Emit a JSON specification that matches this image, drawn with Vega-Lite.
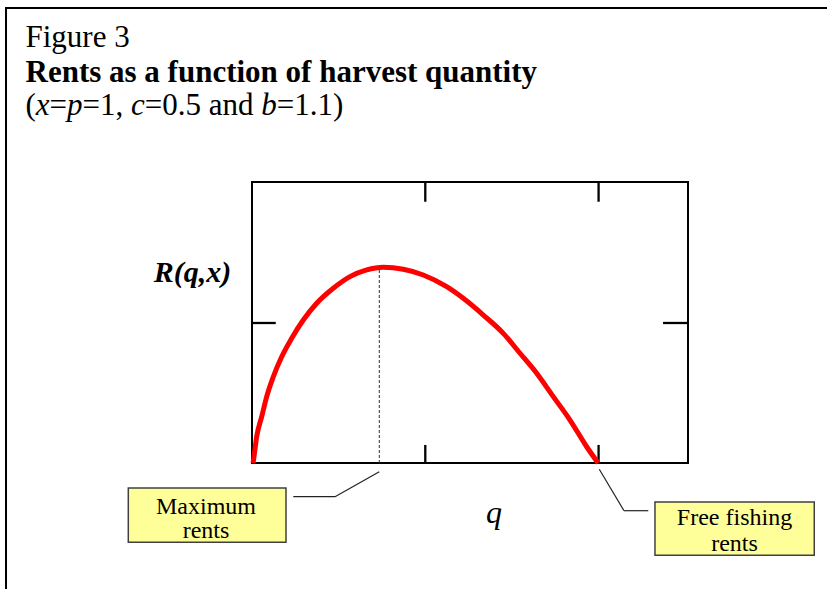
{
  "$schema": "https://vega.github.io/schema/vega-lite/v6.json",
  "width": 436,
  "height": 281,
  "autosize": {"type": "none"},
  "padding": {"left": 252, "top": 182, "right": 139, "bottom": 126},
  "background": "white",
  "config": {"view": {"stroke": "black", "strokeWidth": 2}},
  "datasets": {
    "curve": [
      {"q": 0.006, "R": 0},
      {"q": 0.0115, "R": 0.045},
      {"q": 0.0271, "R": 0.188},
      {"q": 0.056, "R": 0.331},
      {"q": 0.0848, "R": 0.474},
      {"q": 0.1229, "R": 0.616},
      {"q": 0.1714, "R": 0.759},
      {"q": 0.2291, "R": 0.891},
      {"q": 0.296, "R": 1.021},
      {"q": 0.3733, "R": 1.141},
      {"q": 0.4691, "R": 1.248},
      {"q": 0.5655, "R": 1.331},
      {"q": 0.6619, "R": 1.379},
      {"q": 0.7576, "R": 1.398},
      {"q": 0.873, "R": 1.384},
      {"q": 0.9885, "R": 1.343},
      {"q": 1.1235, "R": 1.259},
      {"q": 1.2193, "R": 1.176},
      {"q": 1.3347, "R": 1.057},
      {"q": 1.4501, "R": 0.926},
      {"q": 1.5465, "R": 0.784},
      {"q": 1.6428, "R": 0.641},
      {"q": 1.7386, "R": 0.474},
      {"q": 1.835, "R": 0.307},
      {"q": 1.9313, "R": 0.116},
      {"q": 1.997, "R": 0}
    ],
    "frame": [{"q": -1.4195, "R": 3.25, "q2": 3.4, "R2": -1.0}],
    "ticks": [
      {"q": 1, "R": 2.007, "q2": 1, "R2": 1.866},
      {"q": 2, "R": 2.007, "q2": 2, "R2": 1.866},
      {"q": 1, "R": 0, "q2": 1, "R2": 0.129},
      {"q": 2, "R": 0, "q2": 2, "R2": 0.129},
      {"q": 0, "R": 1, "q2": 0.137, "R2": 1},
      {"q": 2.372, "R": 1, "q2": 2.516, "R2": 1}
    ],
    "leaders": [
      {"q": 0.7346, "R": -0.0621, "q2": 0.4789, "R2": -0.2407},
      {"q": 0.4789, "R": -0.2407, "q2": 0.2383, "R2": -0.2407},
      {"q": 2.004, "R": -0.045, "q2": 2.1466, "R2": -0.3407},
      {"q": 2.1466, "R": -0.3407, "q2": 2.2868, "R2": -0.3407}
    ],
    "dotted": [{"q": 0.7346, "R": 0, "q2": 0.7346, "R2": 1.395}],
    "boxes": [
      {"q": -0.7138, "R": -0.1786, "q2": 0.1962, "R2": -0.5664},
      {"q": 2.3254, "R": -0.2786, "q2": 3.2446, "R2": -0.6593}
    ],
    "boxText": [
      {"q": -0.2654, "R": -0.3607, "t": "Maximum"},
      {"q": -0.2654, "R": -0.5357, "t": "rents"},
      {"q": 2.7842, "R": -0.4429, "t": "Free fishing"},
      {"q": 2.7842, "R": -0.625, "t": "rents"}
    ],
    "titleRegular": [{"q": -1.307, "R": 2.968, "t": "Figure 3"}],
    "titleBold": [{"q": -1.307, "R": 2.7214, "t": "Rents as a function of harvest quantity"}],
    "subRegular": [
      {"q": -1.307, "R": 2.482, "t": "("},
      {"q": -1.168, "R": 2.482, "t": "="},
      {"q": -0.9777, "R": 2.482, "t": "=1,"},
      {"q": -0.6185, "R": 2.482, "t": "=0.5 and"},
      {"q": 0.1432, "R": 2.482, "t": "=1.1)"}
    ],
    "subItalic": [
      {"q": -1.2474, "R": 2.482, "t": "x"},
      {"q": -1.0671, "R": 2.482, "t": "p"},
      {"q": -0.6979, "R": 2.482, "t": "c"},
      {"q": 0.0538, "R": 2.482, "t": "b"}
    ],
    "yLabel": [{"q": -0.3433, "R": 1.2893, "t": "R(q,x)"}],
    "xLabel": [{"q": 1.3964, "R": -0.4286, "t": "q"}]
  },
  "encoding": {
    "x": {"field": "q", "type": "quantitative", "scale": {"domain": [0, 2.516], "nice": false, "zero": false}, "axis": null},
    "y": {"field": "R", "type": "quantitative", "scale": {"domain": [0, 2.007], "nice": false, "zero": false}, "axis": null}
  },
  "layer": [
    {
      "data": {"name": "frame"},
      "mark": {"type": "rect", "filled": false, "stroke": "black", "strokeWidth": 2},
      "encoding": {"x2": {"field": "q2"}, "y2": {"field": "R2"}}
    },
    {
      "data": {"name": "ticks"},
      "mark": {"type": "rule", "color": "black", "strokeWidth": 2.3},
      "encoding": {"x2": {"field": "q2"}, "y2": {"field": "R2"}}
    },
    {
      "data": {"name": "dotted"},
      "mark": {"type": "rule", "color": "#333333", "strokeWidth": 1, "strokeDash": [3, 2]},
      "encoding": {"x2": {"field": "q2"}, "y2": {"field": "R2"}}
    },
    {
      "data": {"name": "leaders"},
      "mark": {"type": "rule", "color": "#222222", "strokeWidth": 1.2},
      "encoding": {"x2": {"field": "q2"}, "y2": {"field": "R2"}}
    },
    {
      "data": {"name": "curve"},
      "mark": {"type": "line", "color": "#ff0000", "strokeWidth": 5, "interpolate": "monotone"},
      "encoding": {"order": {"field": "q", "type": "quantitative"}}
    },
    {
      "data": {"name": "boxes"},
      "mark": {"type": "rect", "fill": "#ffff99", "stroke": "#404040", "strokeWidth": 1.5},
      "encoding": {"x2": {"field": "q2"}, "y2": {"field": "R2"}}
    },
    {
      "data": {"name": "boxText"},
      "mark": {"type": "text", "align": "center", "baseline": "alphabetic", "font": "Liberation Serif", "fontSize": 24, "color": "black"},
      "encoding": {"text": {"field": "t"}}
    },
    {
      "data": {"name": "titleRegular"},
      "mark": {"type": "text", "align": "left", "baseline": "alphabetic", "font": "Liberation Serif", "fontSize": 31, "color": "black"},
      "encoding": {"text": {"field": "t"}}
    },
    {
      "data": {"name": "titleBold"},
      "mark": {"type": "text", "align": "left", "baseline": "alphabetic", "font": "Liberation Serif", "fontSize": 31, "fontWeight": "bold", "color": "black"},
      "encoding": {"text": {"field": "t"}}
    },
    {
      "data": {"name": "subRegular"},
      "mark": {"type": "text", "align": "left", "baseline": "alphabetic", "font": "Liberation Serif", "fontSize": 31, "color": "black"},
      "encoding": {"text": {"field": "t"}}
    },
    {
      "data": {"name": "subItalic"},
      "mark": {"type": "text", "align": "left", "baseline": "alphabetic", "font": "Liberation Serif", "fontSize": 31, "fontStyle": "italic", "color": "black"},
      "encoding": {"text": {"field": "t"}}
    },
    {
      "data": {"name": "yLabel"},
      "mark": {"type": "text", "align": "center", "baseline": "alphabetic", "font": "Liberation Serif", "fontSize": 30, "fontStyle": "italic", "fontWeight": "bold", "color": "black"},
      "encoding": {"text": {"field": "t"}}
    },
    {
      "data": {"name": "xLabel"},
      "mark": {"type": "text", "align": "center", "baseline": "alphabetic", "font": "Liberation Serif", "fontSize": 32, "fontStyle": "italic", "color": "black"},
      "encoding": {"text": {"field": "t"}}
    }
  ]
}
